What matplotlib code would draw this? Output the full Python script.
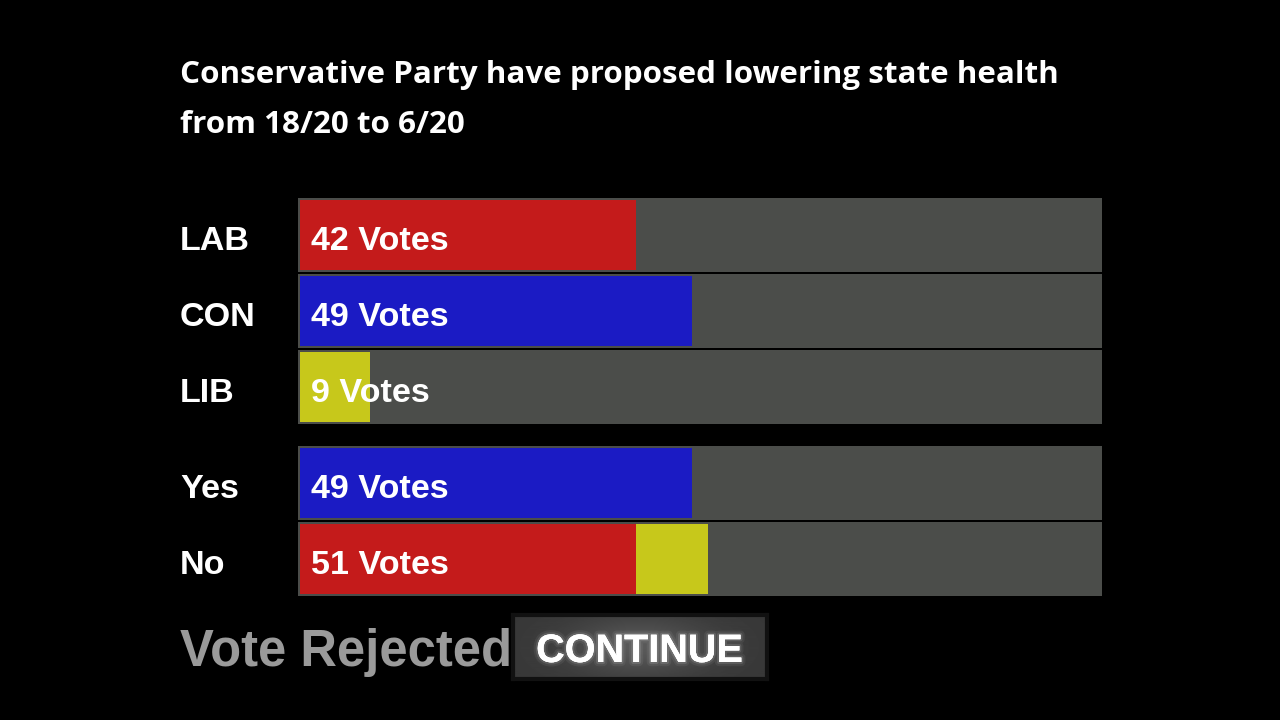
import numpy as np
import matplotlib.pyplot as plt
import matplotlib.patheffects as pe
from matplotlib.transforms import blended_transform_factory

# data
title_lines = ["Conservative Party have proposed lowering state health",
               "from 18/20 to 6/20"]
parties = ["LAB", "CON", "LIB"]
party_votes = [42, 49, 9]
party_colors = ["#c41b1b", "#1b1bc4", "#c7c81b"]
yes_parties = ["CON"]
no_parties = ["LAB", "LIB"]
total_seats = 100
result_text = "Vote Rejected"
button_text = "CONTINUE"

W, H = 1280, 720
fig = plt.figure(figsize=(W / 100, H / 100), dpi=100, facecolor="black")

# bars axes: 298..1102 px wide, 198..596 px high
ax = fig.add_axes([298 / W, 1 - 596 / H, 804 / W, 398 / H])
ax.set_facecolor("black")
ax.set_xlim(0, total_seats)
ax.set_ylim(4.75, -0.487)
ax.axis("off")

ypos = [0, 1, 2, 3.263, 4.263]
labels = parties + ["Yes", "No"]
inset = 0.25
bar_h = 0.974
fill_h = 0.92
base_off = 0.195  # baseline a bit below row centre

# grey track
ax.barh(ypos, total_seats, height=bar_h, color="#4b4d4a", zorder=1)

color_of = dict(zip(parties, party_colors))
votes_of = dict(zip(parties, party_votes))

# party rows
for y, p in zip(ypos[:3], parties):
    v = votes_of[p]
    ax.barh(y, v - inset, left=inset, height=fill_h, color=color_of[p], zorder=2)

# yes / no rows (stacked)
row_totals = []
for y, group in zip(ypos[3:], [yes_parties, no_parties]):
    left = 0
    for p in group:
        v = votes_of[p]
        start = max(left, inset)
        ax.barh(y, left + v - start, left=start, height=fill_h,
                color=color_of[p], zorder=2)
        left += v
    row_totals.append(left)

counts = party_votes + row_totals
lab_font = ["Liberation Sans", "DejaVu Sans"]
for y, n in zip(ypos, counts):
    ax.text(1.6, y + base_off, f"{n} Votes", color="white", fontsize=24.6,
            fontweight="bold", family=lab_font, va="baseline", ha="left", zorder=3)

trans = blended_transform_factory(fig.transFigure, ax.transData)
for y, lab in zip(ypos, labels):
    ax.text(180 / W, y + base_off, lab, transform=trans, color="white",
            fontsize=24.6, fontweight="bold", family=lab_font, va="baseline",
            ha="left")

# title
title_font = ["Open Sans", "DejaVu Sans"]
fig.text(180 / W, 1 - 83 / H, title_lines[0], color="white", fontsize=22.6,
         fontweight="bold", family=title_font, va="baseline")
fig.text(180 / W, 1 - 133 / H, title_lines[1], color="white", fontsize=22.6,
         fontweight="bold", family=title_font, va="baseline")

# result
fig.text(180 / W, 1 - 666 / H, result_text, color="#9a9a9a", fontsize=36.5,
         fontweight="bold", family=lab_font, va="baseline")

# continue button with soft glow
bax = fig.add_axes([513 / W, 1 - 679 / H, 254 / W, 64 / H])
gx, gy = np.meshgrid(np.linspace(-1, 1, 254), np.linspace(-1, 1, 64))
glow = np.exp(-(gx ** 2 / 0.3 + gy ** 2 / 0.8))
bax.imshow(glow, cmap="gray", vmin=-1.69, vmax=6.0, aspect="auto",
           extent=[0, 1, 0, 1])
bax.set_xticks([])
bax.set_yticks([])
for s in bax.spines.values():
    s.set_color("#111111")
    s.set_linewidth(3)

fig.text(639.5 / W, 1 - 662 / H, button_text, color="white", fontsize=28.5,
         fontweight="bold", family=lab_font, ha="center", va="baseline",
         path_effects=[pe.withStroke(linewidth=6, foreground="white", alpha=0.06),
                       pe.withStroke(linewidth=3, foreground="white", alpha=0.12),
                       pe.Normal()])

fig.savefig("out.png", dpi=100, facecolor="black")
